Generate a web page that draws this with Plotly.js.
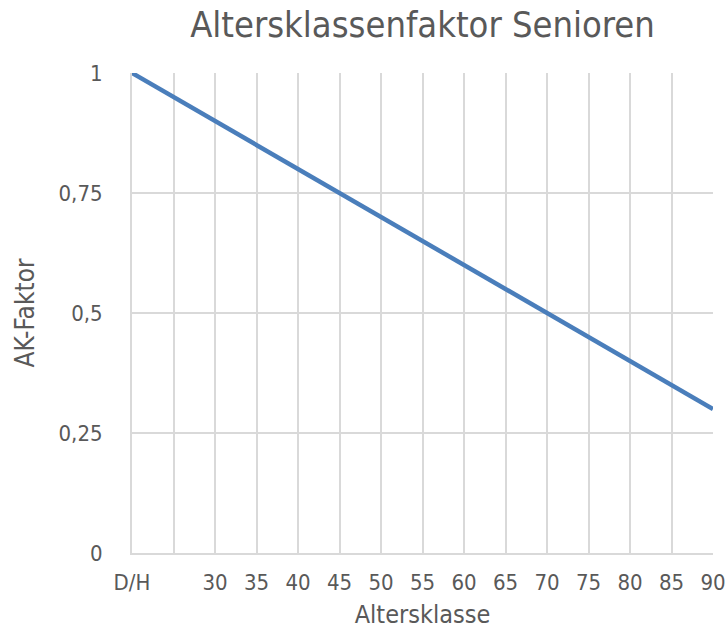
<!DOCTYPE html>
<html>
<head>
<meta charset="utf-8">
<script src="https://cdn.plot.ly/plotly-3.0.1.min.js"></script>
<style>html,body{margin:0;padding:0;background:#fff}#chart{width:728px;height:629px}</style>
</head>
<body>
<div id="chart"></div>
<script>
const categories = ["D/H", " ", "30", "35", "40", "45", "50", "55", "60", "65", "70", "75", "80", "85", "90"];
const akFaktor = [1, 0.95, 0.9, 0.85, 0.8, 0.75, 0.7, 0.65, 0.6, 0.55, 0.5, 0.45, 0.4, 0.35, 0.3];
const yTicks = [0, 0.25, 0.5, 0.75, 1];

const FONT = "DejaVu Sans Condensed, DejaVu Sans, sans-serif";
const TXT = "#595959";
const GRID = "#d9d9d9";

const trace = {
  type: "scatter",
  mode: "lines",
  x: categories,
  y: akFaktor,
  line: {color: "#4a7ebb", width: 4.5},
  hoverinfo: "x+y"
};

const layout = {
  width: 728,
  height: 629,
  margin: {l: 132, r: 15, t: 73, b: 76},
  paper_bgcolor: "#ffffff",
  plot_bgcolor: "#ffffff",
  separators: ",.",
  showlegend: false,
  font: {family: FONT, color: TXT, size: 22},
  title: {
    text: "Altersklassenfaktor Senioren",
    font: {family: FONT, color: TXT, size: 36},
    xref: "paper", x: 0.5, xanchor: "center",
    yref: "container", y: 1 - 24/629, yanchor: "middle"
  },
  xaxis: {
    type: "category",
    range: [0, categories.length - 1],
    showgrid: true,
    gridcolor: GRID,
    gridwidth: 2,
    zeroline: false,
    showline: true,
    linecolor: GRID,
    linewidth: 2,
    ticks: "",
    ticklabelstandoff: 9,
    tickfont: {family: FONT, color: TXT, size: 22},
    title: {text: "Altersklasse", font: {family: FONT, color: TXT, size: 25}}
  },
  yaxis: {
    range: [0, 1],
    tickvals: yTicks,
    showgrid: true,
    gridcolor: GRID,
    gridwidth: 2,
    zeroline: false,
    showline: true,
    linecolor: GRID,
    linewidth: 2,
    ticks: "",
    ticklabelstandoff: 23,
    tickfont: {family: FONT, color: TXT, size: 22},
    title: {text: "AK-Faktor", font: {family: FONT, color: TXT, size: 26}, standoff: 16}
  }
};

Plotly.newPlot("chart", [trace], layout, {displayModeBar: false, staticPlot: true});
</script>
</body>
</html>
